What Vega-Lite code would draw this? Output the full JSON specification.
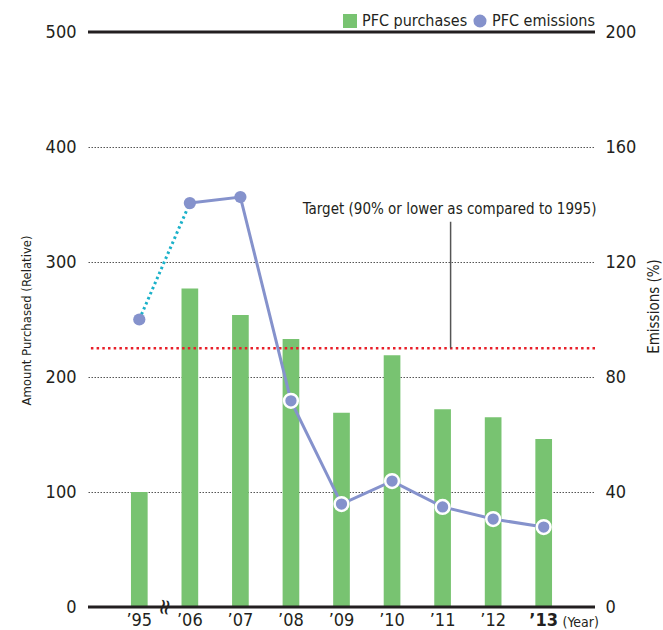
{
  "$schema": "https://vega.github.io/schema/vega-lite/v6.json",
  "width": 507,
  "height": 575,
  "autosize": "none",
  "padding": {"left": 88, "top": 32, "right": 68, "bottom": 23},
  "config": {
    "font": "Liberation Sans Narrow, DejaVu Sans Condensed, sans-serif",
    "view": {"stroke": null},
    "axis": {"labelColor": "#231F20", "labelFontSize": 18, "ticks": false, "domain": false, "grid": false, "titleColor": "#231F20", "titleFontWeight": "normal"},
    "legend": {"labelColor": "#231F20", "labelFontSize": 16}
  },
  "data": {
    "values": [
      {"year": "’95", "purchases": 100, "emissions": 100},
      {"year": "’06", "purchases": 277, "emissions": 140.5},
      {"year": "’07", "purchases": 254, "emissions": 142.6},
      {"year": "’08", "purchases": 233, "emissions": 71.7},
      {"year": "’09", "purchases": 169, "emissions": 35.8},
      {"year": "’10", "purchases": 219, "emissions": 43.8},
      {"year": "’11", "purchases": 172, "emissions": 34.8},
      {"year": "’12", "purchases": 165, "emissions": 30.6},
      {"year": "’13", "purchases": 146, "emissions": 27.8}
    ]
  },
  "layer": [
    {
      "encoding": {
        "y": {
          "field": "purchases", "type": "quantitative",
          "scale": {"domain": [0, 500], "nice": false},
          "axis": {
            "orient": "left", "values": [0, 100, 200, 300, 400, 500], "labelPadding": 12,
            "grid": true,
            "gridColor": "#555555",
            "gridDash": [1.5, 1.5],
            "gridWidth": 1,
            "gridOpacity": {"condition": {"test": "datum.value === 0 || datum.value === 500", "value": 0}, "value": 1},
            "title": "Amount Purchased (Relative)", "titleFontSize": 13,
            "titleAngle": -90, "titleX": -62, "titleY": 288, "titleAlign": "center", "titleBaseline": "middle"
          }
        }
      },
      "layer": [
        {
          "mark": {"type": "bar", "color": "#78C371"},
          "encoding": {
            "x": {
              "field": "year", "type": "nominal", "sort": null,
              "scale": {"paddingInner": 0.67, "paddingOuter": 0.85},
              "axis": {
                "orient": "bottom", "labelAngle": 0, "labelPadding": 4,
                "labelFontWeight": {"condition": {"test": "datum.value === '’13'", "value": "bold"}, "value": "normal"},
                "title": "(Year)", "titleFontSize": 14, "titleAlign": "left", "titleBaseline": "middle",
                "titleX": 474, "titleY": 15
              }
            },
            "color": {
              "datum": "PFC purchases",
              "scale": {"range": ["#78C371"]},
              "legend": {"orient": "none", "legendX": 254, "legendY": -19, "direction": "horizontal", "title": null, "symbolType": "square", "symbolSize": 196, "symbolStrokeWidth": 0, "labelOffset": 4}
            }
          }
        },
        {
          "transform": [{"filter": "datum.year === '’95'"}],
          "mark": {"type": "rule", "color": "#231F20", "strokeWidth": 3},
          "encoding": {"y": {"datum": 0}}
        },
        {
          "transform": [{"filter": "datum.year === '’95'"}],
          "mark": {"type": "rule", "color": "#231F20", "strokeWidth": 3},
          "encoding": {"y": {"datum": 500}}
        },
        {
          "transform": [{"filter": "datum.year === '’95'"}],
          "mark": {"type": "text", "text": "≈", "fontSize": 24, "angle": 100, "xOffset": 25, "color": "#231F20", "baseline": "middle", "align": "center"},
          "encoding": {
            "x": {"field": "year", "type": "nominal", "sort": null},
            "y": {"datum": 0}
          }
        }
      ]
    },
    {
      "encoding": {
        "y": {
          "field": "emissions", "type": "quantitative",
          "scale": {"domain": [0, 200], "nice": false},
          "axis": {
            "orient": "right", "values": [0, 40, 80, 120, 160, 200], "labelPadding": 10,
            "title": "Emissions (%)", "titleFontSize": 15,
            "titleAngle": -90, "titleX": 58, "titleY": 274, "titleAlign": "center", "titleBaseline": "middle"
          }
        }
      },
      "layer": [
        {
          "transform": [{"filter": "datum.year === '’95'"}],
          "mark": {"type": "rule", "color": "#E8202A", "strokeWidth": 2.5, "strokeDash": [2.5, 3.2]},
          "encoding": {"y": {"datum": 90}}
        },
        {
          "transform": [{"filter": "datum.year === '’11'"}],
          "mark": {"type": "rule", "color": "#555555", "strokeWidth": 1.5, "xOffset": 8},
          "encoding": {
            "x": {"field": "year", "type": "nominal", "sort": null},
            "y": {"datum": 90},
            "y2": {"datum": 134}
          }
        },
        {
          "transform": [{"filter": "datum.year === '’11'"}],
          "mark": {"type": "text", "text": "Target (90% or lower as compared to 1995)", "fontSize": 15, "xOffset": 7, "color": "#231F20", "align": "center", "baseline": "middle"},
          "encoding": {
            "x": {"field": "year", "type": "nominal", "sort": null},
            "y": {"datum": 138.5}
          }
        },
        {
          "transform": [{"filter": "datum.year === '’95' || datum.year === '’06'"}],
          "mark": {"type": "line", "color": "#1BB1C9", "strokeWidth": 3, "strokeDash": [2.5, 3]},
          "encoding": {
            "x": {"field": "year", "type": "nominal", "sort": null},
            "y": {"field": "emissions", "type": "quantitative"}
          }
        },
        {
          "transform": [{"filter": "datum.year !== '’95'"}],
          "mark": {"type": "line", "color": "#8592CC", "strokeWidth": 3},
          "encoding": {
            "x": {"field": "year", "type": "nominal", "sort": null},
            "y": {"field": "emissions", "type": "quantitative"}
          }
        },
        {
          "transform": [{"filter": "datum.year === '’95' || datum.year === '’06' || datum.year === '’07'"}],
          "mark": {"type": "point", "filled": true, "shape": "circle", "size": 150, "opacity": 1, "strokeWidth": 0},
          "encoding": {
            "x": {"field": "year", "type": "nominal", "sort": null},
            "y": {"field": "emissions", "type": "quantitative"},
            "color": {
              "datum": "PFC emissions",
              "scale": {"range": ["#8592CC"]},
              "legend": {"orient": "none", "legendX": 384, "legendY": -19, "direction": "horizontal", "title": null, "symbolType": "circle", "symbolSize": 170, "symbolStrokeWidth": 0, "labelOffset": 4}
            }
          }
        },
        {
          "transform": [{"filter": "datum.year !== '’95' && datum.year !== '’06' && datum.year !== '’07'"}],
          "mark": {"type": "point", "filled": true, "shape": "circle", "size": 190, "opacity": 1, "stroke": "white", "strokeWidth": 2.5},
          "encoding": {
            "x": {"field": "year", "type": "nominal", "sort": null},
            "y": {"field": "emissions", "type": "quantitative"},
            "color": {"datum": "PFC emissions"}
          }
        }
      ]
    }
  ],
  "resolve": {"scale": {"y": "independent", "color": "independent"}}
}
